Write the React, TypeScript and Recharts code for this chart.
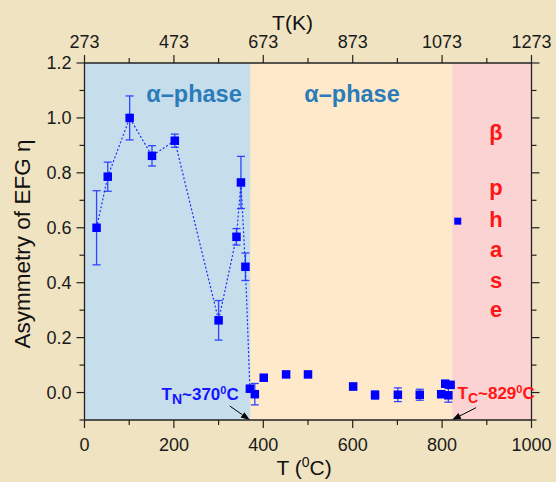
import React from 'react';
import {
  ComposedChart,
  Scatter,
  XAxis,
  YAxis,
  ReferenceArea,
  ReferenceLine,
  ErrorBar,
} from 'recharts';

// ---- data ----
const alphaT = [27, 52, 101, 151, 202, 300, 340, 350, 360, 370];
const alphaEta = [0.6, 0.786, 1.0, 0.862, 0.917, 0.263, 0.567, 0.765, 0.458, 0.014];
const alphaErr = [0.135, 0.053, 0.08, 0.037, 0.024, 0.072, 0.03, 0.095, 0.05, 0];

const otherT = [381, 401, 451, 500, 601, 650, 701, 750, 798, 807, 814, 819];
const otherEta = [-0.006, 0.054, 0.066, 0.066, 0.022, -0.009, -0.008, -0.008, -0.006, 0.032, -0.01, 0.028];
const otherErr = [0.039, 0, 0.01, 0.008, 0.012, 0.015, 0.025, 0.02, 0.012, 0.012, 0.025, 0.008];

const betaT = [835];
const betaEta = [0.624];

const xTicks = [0, 100, 200, 300, 400, 500, 600, 700, 800, 900, 1000];
const yTicks = [-0.1, 0, 0.1, 0.2, 0.3, 0.4, 0.5, 0.6, 0.7, 0.8, 0.9, 1.0, 1.1, 1.2];

const T_N = 370;
const T_C_edge = 823;
const blueEnd = 371;

const alphaData = alphaT.map((t, i) => ({ t, eta: alphaEta[i], err: alphaErr[i] }));
const otherData = otherT.map((t, i) => ({ t, eta: otherEta[i], err: otherErr[i] }));
const betaData = betaT.map((t, i) => ({ t, eta: betaEta[i] }));

// ---- style ----
const FONT = '"Liberation Sans", Arial, sans-serif';
const AX = '#222';
const TS = 8;
const TM = 2;
const BLUE = '#0000FF';

const Square = (p: any) => (
  <rect x={p.cx - 4.25} y={p.cy - 4.25} width={8.5} height={8.5} fill={BLUE} />
);
const SmallSquare = (p: any) => (
  <rect x={p.cx - 3.5} y={p.cy - 3.5} width={7} height={7} fill={BLUE} />
);

const isMajor = (v: number, step: number) => Math.round(v / step) % 2 === 0;

const LeftTick = (p: any) => {
  const { x, y, payload } = p;
  const v = payload.value;
  const major = isMajor(v, 0.1);
  const ax = x + TS + TM;
  return (
    <g>
      <line x1={ax} x2={ax - (major ? 8 : 5)} y1={y} y2={y} stroke={AX} strokeWidth={1.2} />
      {major && (
        <text x={ax - 13} y={y} dy="0.36em" textAnchor="end" fontSize={18} fill="#1a1a1a" fontFamily={FONT}>
          {v.toFixed(1)}
        </text>
      )}
    </g>
  );
};

const RightTick = (p: any) => {
  const { x, y, payload } = p;
  const v = payload.value;
  const major = isMajor(v, 0.1);
  const ax = x - TS - TM;
  return <line x1={ax} x2={ax + (major ? 8 : 5)} y1={y} y2={y} stroke={AX} strokeWidth={1.2} />;
};

const BottomTick = (p: any) => {
  const { x, y, payload } = p;
  const v = payload.value;
  const major = isMajor(v, 100);
  const ay = y - TS - TM;
  return (
    <g>
      <line x1={x} x2={x} y1={ay} y2={ay + (major ? 8 : 5)} stroke={AX} strokeWidth={1.2} />
      {major && (
        <text x={x} y={ay + 31} textAnchor="middle" fontSize={18} fill="#1a1a1a" fontFamily={FONT}>
          {v}
        </text>
      )}
    </g>
  );
};

const TopTick = (p: any) => {
  const { x, y, payload } = p;
  const v = payload.value;
  const major = isMajor(v, 100);
  const ay = y + TS + TM;
  return (
    <g>
      <line x1={x} x2={x} y1={ay} y2={ay - (major ? 8 : 5)} stroke={AX} strokeWidth={1.2} />
      {major && (
        <text x={x} y={ay - 15.5} textAnchor="middle" fontSize={18} fill="#1a1a1a" fontFamily={FONT}>
          {v + 273}
        </text>
      )}
    </g>
  );
};

const Arrow = (p: any) => {
  const { x1, y1, x2, y2 } = p;
  const ang = Math.atan2(y2 - y1, x2 - x1);
  const L = 9;
  const W = 3.2;
  const bx = x2 - L * Math.cos(ang);
  const by = y2 - L * Math.sin(ang);
  const px = -Math.sin(ang) * W;
  const py = Math.cos(ang) * W;
  return (
    <g>
      <line x1={x1} y1={y1} x2={bx} y2={by} stroke="#000" strokeWidth={1} />
      <polygon points={`${x2},${y2} ${bx + px},${by + py} ${bx - px},${by - py}`} fill="#000" />
    </g>
  );
};

export default function App() {
  return (
    <div
      style={{
        position: 'absolute',
        left: 0,
        top: 0,
        width: 556,
        height: 482,
        background: '#F0E3C1',
        fontFamily: FONT,
      }}
    >
      <ComposedChart width={556} height={482} margin={{ top: 0, right: 0, bottom: 0, left: 0 }}>
        <XAxis
          xAxisId="b"
          dataKey="t"
          type="number"
          domain={[0, 1000]}
          ticks={xTicks}
          interval={0}
          orientation="bottom"
          height={62}
          tickSize={TS}
          tickMargin={TM}
          tickLine={false}
          tick={<BottomTick />}
          axisLine={{ stroke: AX, strokeWidth: 1.3 }}
          allowDataOverflow
        />
        <XAxis
          xAxisId="t"
          dataKey="t"
          type="number"
          domain={[0, 1000]}
          ticks={xTicks}
          interval={0}
          orientation="top"
          height={63}
          tickSize={TS}
          tickMargin={TM}
          tickLine={false}
          tick={<TopTick />}
          axisLine={{ stroke: AX, strokeWidth: 1.3 }}
          allowDataOverflow
        />
        <YAxis
          yAxisId="l"
          dataKey="eta"
          type="number"
          domain={[-0.1, 1.2]}
          ticks={yTicks}
          interval={0}
          orientation="left"
          width={84.5}
          tickSize={TS}
          tickMargin={TM}
          tickLine={false}
          tick={<LeftTick />}
          axisLine={{ stroke: AX, strokeWidth: 1.3 }}
          allowDataOverflow
        />
        <YAxis
          yAxisId="r"
          dataKey="eta"
          type="number"
          domain={[-0.1, 1.2]}
          ticks={yTicks}
          interval={0}
          orientation="right"
          width={24.5}
          tickSize={TS}
          tickMargin={TM}
          tickLine={false}
          tick={<RightTick />}
          axisLine={{ stroke: AX, strokeWidth: 1.3 }}
          allowDataOverflow
        />
        <ReferenceArea xAxisId="b" yAxisId="l" x1={0} x2={blueEnd} y1={-0.1} y2={1.2} fill="#C6DDEB" fillOpacity={1} stroke="none" />
        <ReferenceArea xAxisId="b" yAxisId="l" x1={blueEnd} x2={T_C_edge} y1={-0.1} y2={1.2} fill="#FEE9CB" fillOpacity={1} stroke="none" />
        <ReferenceArea xAxisId="b" yAxisId="l" x1={T_C_edge} x2={1000} y1={-0.1} y2={1.2} fill="#FBD3D3" fillOpacity={1} stroke="none" />
        <Scatter
          data={alphaData}
          xAxisId="b"
          yAxisId="l"
          shape={Square}
          line={{ stroke: '#1530FF', strokeWidth: 1.2, strokeDasharray: '2 2' }}
          lineType="joint"
          isAnimationActive={false}
        >
          <ErrorBar dataKey="err" direction="y" width={4} stroke="#2F45FF" strokeWidth={1.3} isAnimationActive={false} />
        </Scatter>
        <Scatter data={otherData} xAxisId="b" yAxisId="l" shape={Square} isAnimationActive={false}>
          <ErrorBar dataKey="err" direction="y" width={4} stroke="#2F45FF" strokeWidth={1.3} isAnimationActive={false} />
        </Scatter>
        <Scatter data={betaData} xAxisId="b" yAxisId="l" shape={SmallSquare} isAnimationActive={false} />
        <ReferenceLine
          xAxisId="b"
          yAxisId="l"
          segment={[{ x: 325, y: -0.049 }, { x: T_N, y: -0.1 }]}
          ifOverflow="visible"
          shape={Arrow}
        />
        <ReferenceLine
          xAxisId="b"
          yAxisId="l"
          segment={[{ x: 876, y: -0.055 }, { x: T_C_edge - 1, y: -0.1 }]}
          ifOverflow="visible"
          shape={Arrow}
        />
      </ComposedChart>
      <svg
        width={556}
        height={482}
        style={{ position: 'absolute', left: 0, top: 0, pointerEvents: 'none' }}
        fontFamily={FONT}
      >
        <text x={292.5} y={29.5} textAnchor="middle" fontSize={21} fill="#111">T(K)</text>
        <text x={276.5} y={475} fontSize={21} fill="#111">
          T (<tspan fontSize={14} dy={-8}>0</tspan>
          <tspan fontSize={21} dy={8}>C)</tspan>
        </text>
        <text
          transform="translate(30,244) rotate(-90)"
          textAnchor="middle"
          fontSize={22.5}
          fill="#111"
        >
          Asymmetry of EFG η
        </text>
        <text x={194} y={102} textAnchor="middle" fontSize={23.5} fontWeight="bold" fill="#2B7BB9">α–phase</text>
        <text x={352} y={102} textAnchor="middle" fontSize={23.5} fontWeight="bold" fill="#2B7BB9">α–phase</text>
        <g fontSize={22} fontWeight="bold" fill="#FF1515" textAnchor="middle">
          <text x={496} y={140}>β</text>
          <text x={496} y={195}>p</text>
          <text x={496} y={227}>h</text>
          <text x={496} y={257}>a</text>
          <text x={496} y={288}>s</text>
          <text x={496} y={317}>e</text>
        </g>
        <text x={161.5} y={400} fontSize={17} fontWeight="bold" fill="#1515FF">
          T<tspan fontSize={14} dy={4}>N</tspan>
          <tspan fontSize={17} dy={-4}>~370</tspan>
          <tspan fontSize={11} dy={-6}>0</tspan>
          <tspan fontSize={17} dy={6}>C</tspan>
        </text>
        <text x={457.5} y={399} fontSize={17} fontWeight="bold" fill="#FF1515">
          T<tspan fontSize={14} dy={4}>C</tspan>
          <tspan fontSize={17} dy={-4}>~829</tspan>
          <tspan fontSize={11} dy={-6}>0</tspan>
          <tspan fontSize={17} dy={6}>C</tspan>
        </text>
      </svg>
    </div>
  );
}
